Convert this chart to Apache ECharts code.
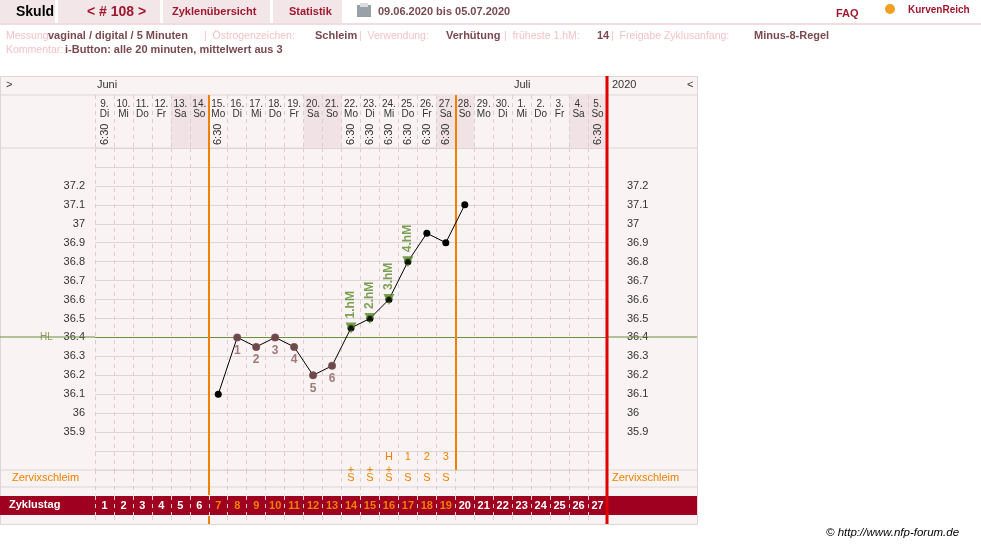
<!DOCTYPE html>
<html><head><meta charset="utf-8">
<script src="https://cdn.jsdelivr.net/npm/echarts@6/dist/echarts.min.js"></script>
<style>html,body{margin:0;padding:0;background:#fff}#c{width:981px;height:544px}</style>
</head><body><div id="c"></div>
<script>
const dates = ['9.','10.','11.','12.','13.','14.','15.','16.','17.','18.','19.','20.','21.','22.','23.','24.','25.','26.','27.','28.','29.','30.','1.','2.','3.','4.','5.'];
const weekdays = ['Di','Mi','Do','Fr','Sa','So','Mo','Di','Mi','Do','Fr','Sa','So','Mo','Di','Mi','Do','Fr','Sa','So','Mo','Di','Mi','Do','Fr','Sa','So'];
const times = ['6:30','','','','','','6:30','','','','','','','6:30','6:30','6:30','6:30','6:30','6:30','','','','','','','','6:30'];
const cycleDays = [1,2,3,4,5,6,7,8,9,10,11,12,13,14,15,16,17,18,19,20,21,22,23,24,25,26,27];
const tempDays = [7,8,9,10,11,12,13,14,15,16,17,18,19,20];
const temps = [36.1,36.4,36.35,36.4,36.35,36.2,36.25,36.45,36.5,36.6,36.8,36.95,36.9,37.1];
const lowDays = [8,9,10,11,12,13];
const lowLabels = ['1','2','3','4','5','6'];
const hmDays = [14,15,16,17];
const hmLabels = ['1.hM','2.hM','3.hM','4.hM'];
const weekendDays = [5,6,12,13,19,20,26,27];
const mucusPlus = ['','','','','','','','','','','','','','+','+','+','','','','','','','','','','',''];
const mucus = ['','','','','','','','','','','','','','S','S','S','S','S','S','','','','','','','',''];
const peakRow = ['','','','','','','','','','','','','','','','H','1','2','3','','','','','','','',''];
const yTicks = [35.9,36,36.1,36.2,36.3,36.4,36.5,36.6,36.7,36.8,36.9,37,37.1,37.2];
const hlValue = 36.4;
const fertileStart = 6, fertileEnd = 19;

const OR = '#f08000', F = 'Liberation Sans, Arial, sans-serif';
const tempOf = d => temps[tempDays.indexOf(d)];
const X0 = 95, W = 512;
function vx(idx){return {type:'value',gridIndex:idx,min:0,max:27,interval:1,axisLine:{show:false},axisTick:{show:false},axisLabel:{show:false},splitLine:{show:true,lineStyle:{color:'#d8d0d0',type:[4,4]}}};}
function cx(idx,pos,data,label){return {type:'category',gridIndex:idx,position:pos,data:data,boundaryGap:true,z:10,axisLine:{show:false},axisTick:{show:false},splitLine:{show:false},
  axisLabel:Object.assign({interval:0,hideOverlap:false,fontFamily:F,fontSize:10,color:'#333'},label)};}

const chart = echarts.init(document.getElementById('c'));
const grids = [
 {left:X0,top:148,width:W,height:322},
 {left:X0,top:95,width:W,height:53},
 {left:X0,top:470,width:W,height:25},
 {left:X0,top:496,width:W,height:19},
 {left:X0,top:516,width:W,height:8}
];
const xAxes = [
 vx(0),vx(1),vx(2),vx(3),vx(4),
 cx(1,'top',dates.map((d,i)=>d+'\n'+weekdays[i]),{inside:true,margin:4,lineHeight:10,color:'#333'}),
 cx(1,'bottom',times,{inside:true,rotate:90,margin:3,color:'#333',fontSize:11}),
 cx(2,'top',mucus.map((m,i)=>(mucusPlus[i]||' ')+'\n'+m),{inside:true,margin:-4,lineHeight:8,color:OR,fontSize:11}),
 cx(0,'bottom',peakRow,{inside:true,margin:8,color:OR,fontSize:11}),
 cx(3,'bottom',cycleDays,{inside:true,margin:4,fontSize:11,fontWeight:'bold',formatter:v=>(+v>fertileStart&&+v<=fertileEnd)?'{o|'+v+'}':'{w|'+v+'}',rich:{o:{color:OR,fontSize:11,fontWeight:'bold',fontFamily:F},w:{color:'#fff',fontSize:11,fontWeight:'bold',fontFamily:F}}})
];
const yb = i=>({type:'value',gridIndex:i,min:0,max:1,show:false});
const lblFmt = v => yTicks.some(t=>Math.abs(t-v)<1e-6)?String(+v.toFixed(1)):'';
const yAxes = [
 {type:'value',gridIndex:0,min:35.7,max:37.4,interval:0.1,axisLine:{show:false},axisTick:{show:false},
  axisLabel:{formatter:lblFmt,margin:10,fontFamily:F,fontSize:11,color:'#333'},splitLine:{lineStyle:{color:'#ddd6d6'}}},
 {type:'value',gridIndex:0,position:'right',min:35.7,max:37.4,interval:0.1,axisLine:{show:false},axisTick:{show:false},
  axisLabel:{formatter:lblFmt,margin:20,fontFamily:F,fontSize:11,color:'#333'},splitLine:{show:false}},
 yb(1),yb(2),yb(3),yb(4)
];
const pt = d=>[d-0.5,tempOf(d)];
const vline = (x,c,w)=>({xAxis:x,lineStyle:{color:c,width:w,type:'solid'}});
const series = [
 {type:'line',xAxisIndex:0,yAxisIndex:0,data:tempDays.map(pt),symbol:'circle',symbolSize:7,
  itemStyle:{color:'#000'},lineStyle:{color:'#000',width:1},z:5,
  markLine:{silent:true,symbol:'none',label:{show:false},data:[
   {yAxis:hlValue,lineStyle:{color:'#6b8f3a',width:1,type:'solid'}},
   vline(fertileStart,OR,2),vline(fertileEnd,OR,2)]}},
 {type:'scatter',xAxisIndex:0,yAxisIndex:0,data:lowDays.map(pt),symbolSize:8,itemStyle:{color:'#8a5a5c'},z:6,
  label:{show:true,position:'bottom',distance:3,formatter:p=>lowLabels[p.dataIndex],color:'#8a5a5c',fontFamily:F,fontSize:12,fontWeight:'bold'}},
 {type:'scatter',xAxisIndex:0,yAxisIndex:0,data:hmDays.map(pt),symbol:'triangle',symbolRotate:180,symbolSize:11,itemStyle:{color:'#5a8a2a'},z:6,
  label:{show:true,position:'top',distance:4,rotate:90,align:'left',verticalAlign:'middle',formatter:p=>hmLabels[p.dataIndex],color:'#5a8a2a',fontFamily:F,fontSize:12,fontWeight:'bold'}},
 {type:'scatter',xAxisIndex:0,yAxisIndex:0,data:hmDays.map(pt),symbolSize:5,itemStyle:{color:'#000'},z:7},
 {type:'scatter',xAxisIndex:1,yAxisIndex:2,data:[],z:-1,
  markArea:{silent:true,z:-1,itemStyle:{color:'#f1e2e5'},data:weekendDays.map(d=>[{xAxis:d-1},{xAxis:d}])}},
 {type:'scatter',xAxisIndex:1,yAxisIndex:2,data:[],markLine:{silent:true,symbol:'none',label:{show:false},data:[vline(fertileStart,OR,2),vline(fertileEnd,OR,2)]}},
 {type:'scatter',xAxisIndex:2,yAxisIndex:3,data:[],markLine:{silent:true,symbol:'none',label:{show:false},data:[vline(fertileStart,OR,2)]}},
 {type:'scatter',xAxisIndex:4,yAxisIndex:5,data:[],markLine:{silent:true,symbol:'none',label:{show:false},data:[vline(fertileStart,OR,2)]}},
];
const T=(x,y,t,s)=>({type:'text',x:x,y:y,style:Object.assign({text:t,font:'bold 11px '+F,fill:'#7a4a50',textVerticalAlign:'middle'},s||{})});
const R=(x,y,w,h,fill,z)=>({type:'rect',shape:{x:x,y:y,width:w,height:h},style:{fill:fill},z:z===undefined?-10:z,silent:true});
const L=(x1,y1,x2,y2,c,w,z)=>({type:'line',shape:{x1:x1,y1:y1,x2:x2,y2:y2},style:{stroke:c,lineWidth:w||1},z:z||-5,silent:true});
const LB='#f3c3ca', LF='10.5px '+F;
const graphic = [
 R(0,0,55,23,'#f3e6e8'),R(58,0,102,23,'#f3e6e8'),R(163,0,107,23,'#f3e6e8'),R(273,0,69,23,'#f3e6e8'),
 L(0,24,981,24,'#f3dce0',2),
 T(16,12,'Skuld',{font:'bold 14px '+F,fill:'#000'}),
 T(87,12,'< # 108 >',{font:'bold 14px '+F,fill:'#a01830'}),
 T(172,12,'Zyklenübersicht',{fill:'#a01830'}),
 T(289,12,'Statistik',{fill:'#a01830'}),
 R(357,5,14,12,'#9aa0a8',1),R(360,3,8,4,'#ddd',1),
 T(378,12,'09.06.2020 bis 05.07.2020',{fill:'#7a4a50'}),
 T(836,14,'FAQ',{fill:'#a01830'}),
 T(908,10,'KurvenReich',{fill:'#a01830',font:'bold 10px '+F}),
 {type:'circle',shape:{cx:890,cy:9,r:5},style:{fill:'#f0a020'},z:1},
 T(6,36,'Messung:',{fill:LB,font:LF}),T(48,36,'vaginal / digital / 5 Minuten',{}),
 T(204,36,'|  Östrogenzeichen:',{fill:LB,font:LF}),T(315,36,'Schleim',{}),
 T(359,36,'|  Verwendung:',{fill:LB,font:LF}),T(446,36,'Verhütung',{}),
 T(504,36,'|  früheste 1.hM:',{fill:LB,font:LF}),T(597,36,'14',{}),
 T(611,36,'|  Freigabe Zyklusanfang:',{fill:LB,font:LF}),T(754,36,'Minus-8-Regel',{}),
 T(6,50,'Kommentar:',{fill:LB,font:LF}),T(65,50,'i-Button: alle 20 minuten, mittelwert aus 3',{}),
 R(0,76,697,448,'#f9f3f3',-20),
 {type:'rect',shape:{x:0.5,y:76.5,width:697,height:448},style:{fill:'none',stroke:'#dcd6d6'},z:-4,silent:true},
 L(0,95,697,95,'#dcd6d6'),L(0,148,697,148,'#dcd6d6'),L(0,470,697,470,'#dcd6d6'),L(0,487,697,487,'#dcd6d6'),
 R(0,496,697,19,'#a00020',-3),
 L(607,76,607,524,'#e00000',3,10),
 T(6,85,'>',{font:'11px '+F,fill:'#333'}),T(97,85,'Juni',{font:'11px '+F,fill:'#333'}),
 T(514,85,'Juli',{font:'11px '+F,fill:'#333'}),T(612,85,'2020',{font:'11px '+F,fill:'#333'}),
 T(687,85,'<',{font:'11px '+F,fill:'#333'}),
 T(40,337,'HL',{font:'10px '+F,fill:'#8a9a5a'}),L(0,337,95,337,'#6b8f3a',1,2),L(607,337,697,337,'#6b8f3a',1,2),
 T(12,478,'Zervixschleim',{font:'11px '+F,fill:OR}),T(612,478,'Zervixschleim',{font:'11px '+F,fill:OR}),
 T(9,505,'Zyklustag',{fill:'#fff'}),
 T(826,533,'© http://www.nfp-forum.de',{font:'italic 11.5px '+F,fill:'#000'})
];
chart.setOption({animation:false,grid:grids,xAxis:xAxes,yAxis:yAxes,series:series,graphic:graphic});
</script></body></html>
